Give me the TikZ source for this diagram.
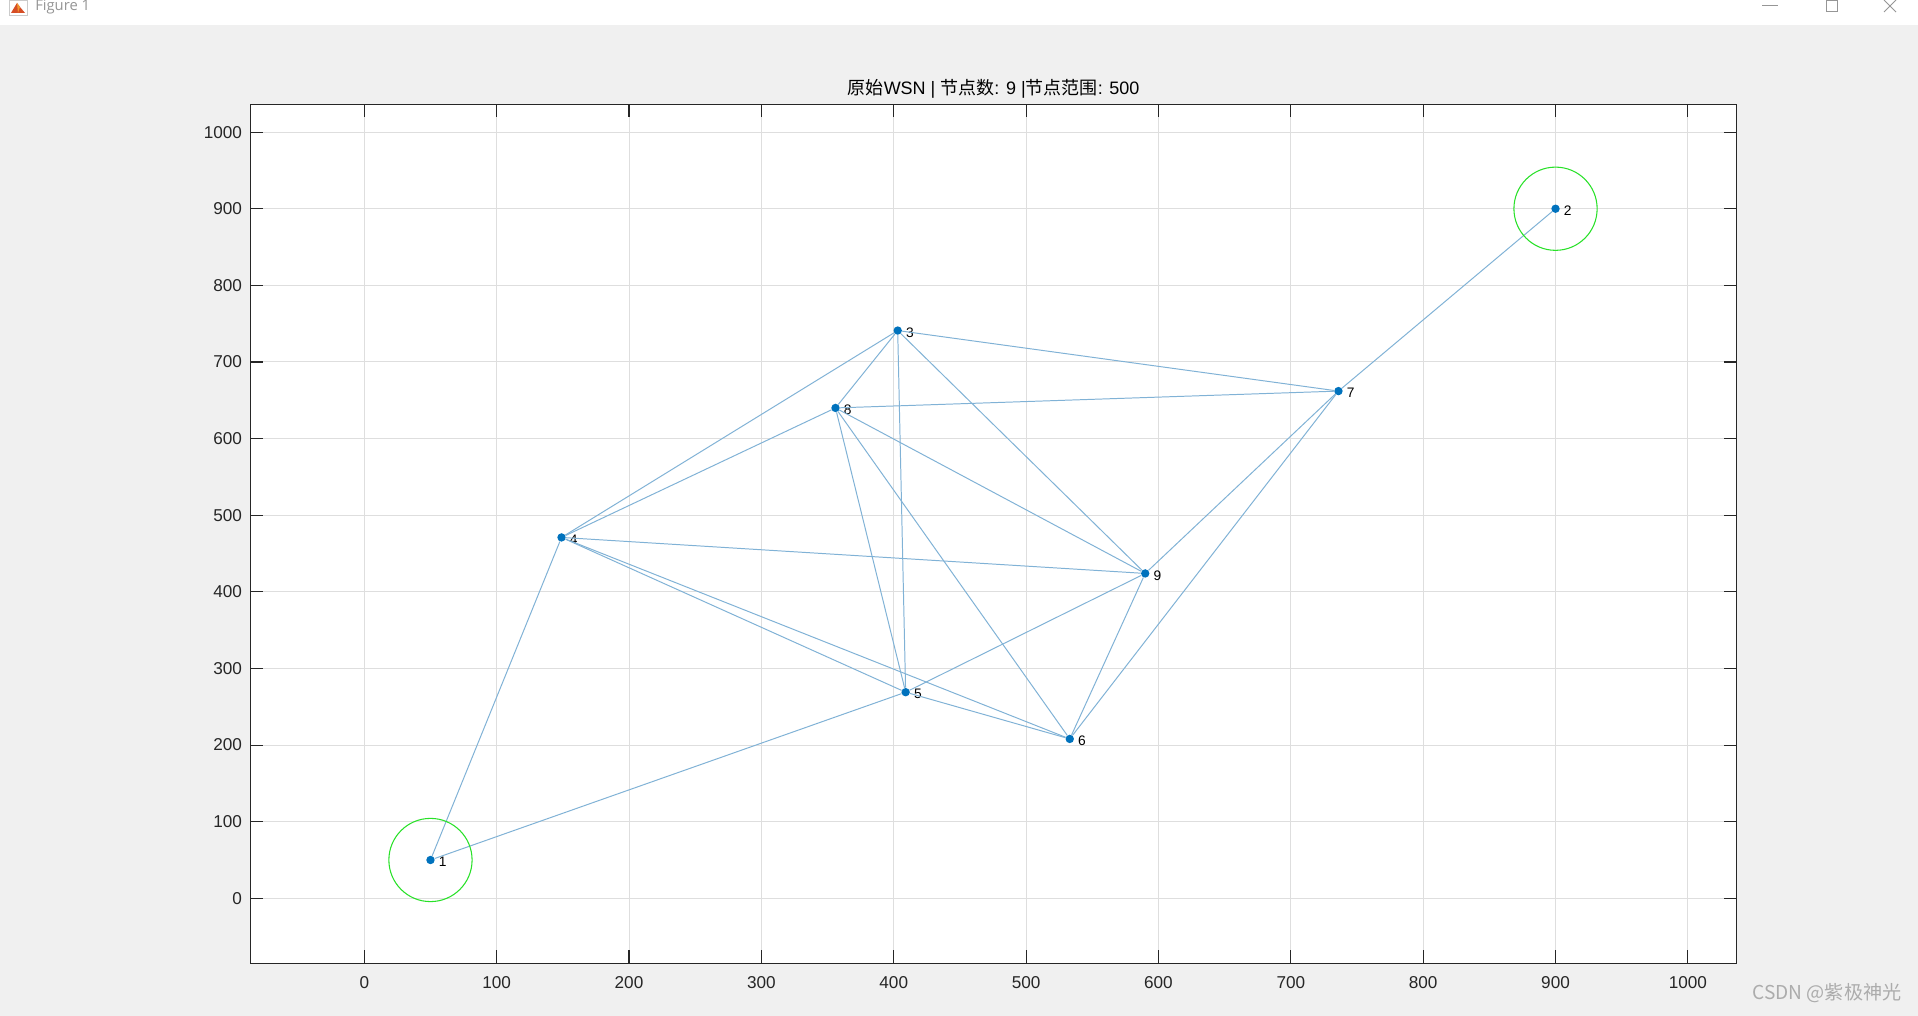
\documentclass[tikz,border=0pt]{standalone}
\usepackage{fontspec}
\setmainfont{Liberation Sans}
\newfontfamily\cjk{Noto Sans CJK SC}
\newfontfamily\uifont{Open Sans}
\usetikzlibrary{positioning}
\definecolor{figBg}{RGB}{240,240,240}
\definecolor{axGray}{RGB}{38,38,38}
\definecolor{gridGray}{RGB}{222,222,222}
\definecolor{dotBlue}{RGB}{0,114,189}
\definecolor{linkBlue}{RGB}{128,178,214}
\definecolor{ringGreen}{RGB}{40,225,40}
\definecolor{chromeGray}{RGB}{150,150,150}
\definecolor{markGray}{RGB}{172,172,172}
\definecolor{logoRed}{RGB}{214,78,38}
\definecolor{logoOrange}{RGB}{242,152,48}

\begin{document}
\begin{tikzpicture}[
    x=0.025cm, y=-0.025cm,
    grid line/.style={draw=gridGray, line width=0.7pt},
    axis line/.style={draw=axGray, line width=0.8pt},
    tick label/.style={font=\fontsize{12.2}{14}\selectfont, text=axGray, inner sep=0pt},
    sensor/.style={circle, fill=dotBlue, inner sep=0pt, minimum size=0.21cm},
    node label/.style={font=\fontsize{9.8}{11}\selectfont, inner sep=0pt},
    link/.style={draw=linkBlue, line width=0.7pt},
    range ring/.style={draw=ringGreen, line width=0.75pt},
    chrome/.style={draw=chromeGray, line width=0.7pt}
]
  \useasboundingbox (0,0) rectangle (1918,1016);
  % window frame
  \fill[figBg] (0,25) rectangle (1918,1016);
  \fill[white] (0,0) rectangle (1918,25);
  \draw[draw=chromeGray!50, fill=white] (9,0.5) rectangle (27,15);
  \fill[logoRed] (11,13) -- (17,3) -- (20,7) -- (25,13) -- cycle;
  \fill[logoOrange] (17,3) -- (20,7) -- (18,13) -- cycle;
  \node[text=chromeGray, font=\uifont\fontsize{10.5}{12}\selectfont, anchor=west, inner sep=0pt] (figname) at (35,7) {Figure 1};
  \draw[chrome] (1762,5) -- (1778,5);
  \draw[chrome] (1826,0.5) rectangle (1837,11);
  \draw[chrome] (1884,0) -- (1896,12) (1884,12) -- (1896,0);

  % axes
  \fill[white] (250.3,104.3) rectangle (1737,963.3);
  \node[font=\fontsize{12.8}{15}\selectfont] (title) at (993.6,89) {{\cjk 原始}WSN | {\cjk 节点数}: 9 |{\cjk 节点范围}: 500};

  \begin{scope}[shift={(364.3,898.3)}, x=0.033088cm, y=0.01915cm]
    \foreach \v in {0,100,...,1000} {
      \draw[grid line] (\v,-84.9) -- (\v,1036.6);
      \draw[grid line] (-86.1,\v) -- (1037,\v);
    }
    \draw[axis line] (-86.1,-84.9) rectangle (1037,1036.6);
    \foreach \v in {0,100,...,1000} {
      \draw[axis line] (\v,-84.9) -- ++(0,17);
      \draw[axis line] (\v,1036.6) -- ++(0,-17);
      \draw[axis line] (-86.1,\v) -- ++(9.8,0);
      \draw[axis line] (1037,\v) -- ++(-9.8,0);
      \node[tick label] (xt\v) at (\v,-110.2) {\v};
      \node[tick label, anchor=east] (yt\v) at (-92.2,\v) {\v};
    }

    % sensor nodes
    \node[sensor] (n1) at (50,50) {};
    \node[sensor] (n2) at (900,900) {};
    \node[sensor] (n3) at (403,741) {};
    \node[sensor] (n4) at (149,471) {};
    \node[sensor] (n5) at (409,269) {};
    \node[sensor] (n6) at (533,208) {};
    \node[sensor] (n7) at (736,662) {};
    \node[sensor] (n8) at (356,640) {};
    \node[sensor] (n9) at (590,424) {};
    \foreach \i in {1,...,9}
      \node[node label, right=0.09cm of n\i, yshift=-0.05cm] (l\i) {\i};

    \foreach \a/\b in {1/4,1/5,2/7,3/4,3/5,3/7,3/8,3/9,4/5,4/6,4/8,4/9,5/6,5/8,5/9,6/7,6/8,6/9,7/8,7/9,8/9}
      \draw[link] (n\a) -- (n\b);

    \draw[range ring] (n1.center) circle[radius=1.04cm];
    \draw[range ring] (n2.center) circle[radius=1.04cm];
  \end{scope}

  \node[text=markGray, font=\cjk\fontsize{13.6}{15}\selectfont] (mark) at (1827,993) {CSDN @紫极神光};
\end{tikzpicture}
\end{document}
